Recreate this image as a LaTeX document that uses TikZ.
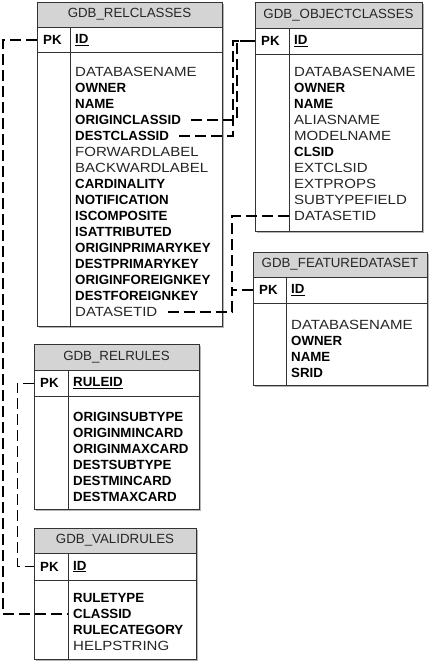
\documentclass[tikz,border=0pt]{standalone}
\usepackage{fontspec}
\setmainfont{Liberation Sans}
\newfontfamily\regfont[FakeStretch=1.13]{Liberation Sans}
\usetikzlibrary{positioning}

\definecolor{hdrgray}{HTML}{D4D4D4}
\definecolor{txtgray}{HTML}{262626}
\definecolor{shadegray}{HTML}{B4B4B4}
\newcommand{\bfld}[1]{\textcolor{black}{\rmfamily\bfseries #1}}

\tikzset{
  frame/.style={draw=black!80, fill=white, line width=0.9pt},
  hdr/.style={draw=black!80, fill=hdrgray, line width=0.9pt},
  rule/.style={draw=black!80, line width=0.9pt},
  shade/.style={fill=shadegray},
  title/.style={text=txtgray, font=\fontsize{13.3}{16}\selectfont},
  pk/.style={anchor=west, inner xsep=6pt, inner ysep=0pt, font=\bfseries\fontsize{13.3}{16}\selectfont},
  fld/.style={anchor=west, inner xsep=5pt, inner ysep=0pt, text=txtgray, font=\regfont\fontsize{13.3}{16}\selectfont},
  fk/.style={draw=black, line width=1.4pt, dash pattern=on 11pt off 5pt},
}

\begin{document}
\begin{tikzpicture}[x=1pt,y=-1pt]
    \useasboundingbox (0,0) rectangle (429,662);

    % GDB_RELCLASSES
    \fill[shade] (39,4) rectangle (224,328);
    \draw[frame] (37,2) rectangle (222,326);
    \draw[hdr] (37,2) rectangle (222,27);
    \draw[rule] (37,52) -- (222,52) (70,27) -- (70,326);
    \node[title] (RC) at (129.5,14.5) {GDB\_RELCLASSES};
    \node[pk] (RCpk) at (37,40) {PK};
    \node[fld] (RCid) at (70,40) {\bfld{\underline{ID}}};
    \foreach \f [count=\i] in {DATABASENAME, \bfld{OWNER}, \bfld{NAME}, \bfld{ORIGINCLASSID},
        \bfld{DESTCLASSID}, FORWARDLABEL, BACKWARDLABEL, \bfld{CARDINALITY}, \bfld{NOTIFICATION},
        \bfld{ISCOMPOSITE}, \bfld{ISATTRIBUTED}, \bfld{ORIGINPRIMARYKEY}, \bfld{DESTPRIMARYKEY},
        \bfld{ORIGINFOREIGNKEY}, \bfld{DESTFOREIGNKEY}, DATASETID}
        \node[fld] (RC\i) at (70,56+16*\i) {\f};

    % GDB_OBJECTCLASSES
    \fill[shade] (257,4) rectangle (424,233);
    \draw[frame] (255,2) rectangle (422,231);
    \draw[hdr] (255,2) rectangle (422,28);
    \draw[rule] (255,54) -- (422,54) (289,28) -- (289,231);
    \node[title] (OC) at (338.5,15) {GDB\_OBJECTCLASSES};
    \node[pk] (OCpk) at (255,41) {PK};
    \node[fld] (OCid) at (289,41) {\bfld{\underline{ID}}};
    \foreach \f [count=\i] in {DATABASENAME, \bfld{OWNER}, \bfld{NAME}, ALIASNAME, MODELNAME,
        \bfld{CLSID}, EXTCLSID, EXTPROPS, SUBTYPEFIELD, DATASETID}
        \node[fld] (OC\i) at (289,56+16*\i) {\f};

    % GDB_FEATUREDATASET
    \fill[shade] (255,254) rectangle (429,387);
    \draw[frame] (253,252) rectangle (427,385);
    \draw[hdr] (253,252) rectangle (427,277);
    \draw[rule] (253,303) -- (427,303) (286,277) -- (286,385);
    \node[title] (FD) at (340,264.5) {GDB\_FEATUREDATASET};
    \node[pk] (FDpk) at (253,290) {PK};
    \node[fld] (FDid) at (286,290) {\bfld{\underline{ID}}};
    \foreach \f [count=\i] in {DATABASENAME, \bfld{OWNER}, \bfld{NAME}, \bfld{SRID}}
        \node[fld] (FD\i) at (286,309+16*\i) {\f};

    % GDB_RELRULES
    \fill[shade] (36,346) rectangle (201,511);
    \draw[frame] (34,344) rectangle (199,509);
    \draw[hdr] (34,344) rectangle (199,370);
    \draw[rule] (34,396) -- (199,396) (68,370) -- (68,509);
    \node[title] (RR) at (116.5,357) {GDB\_RELRULES};
    \node[pk] (RRpk) at (34,383) {PK};
    \node[fld] (RRid) at (68,383) {\bfld{\underline{RULEID}}};
    \foreach \f [count=\i] in {ORIGINSUBTYPE, ORIGINMINCARD, ORIGINMAXCARD, DESTSUBTYPE,
        DESTMINCARD, DESTMAXCARD}
        \node[fld] (RR\i) at (68,401+16*\i) {\bfld{\f}};

    % GDB_VALIDRULES
    \fill[shade] (36,530) rectangle (198,661);
    \draw[frame] (34,528) rectangle (196,659);
    \draw[hdr] (34,528) rectangle (196,553);
    \draw[rule] (34,580) -- (196,580) (68,553) -- (68,659);
    \node[title] (VR) at (115,540.5) {GDB\_VALIDRULES};
    \node[pk] (VRpk) at (34,566.5) {PK};
    \node[fld] (VRid) at (68,566.5) {\bfld{\underline{ID}}};
    \foreach \f [count=\i] in {\bfld{RULETYPE}, \bfld{CLASSID}, \bfld{RULECATEGORY}, HELPSTRING}
        \node[fld] (VR\i) at (68,582+16*\i) {\f};

    % relationships
    \coordinate (railL) at (3,0);
    \coordinate (railR) at (17,0);
    \coordinate (bendO) at (237,0);
    \coordinate (bendD) at (233,0);
    \coordinate (bendF) at (232,0);
    \draw[fk, line width=2pt] (RCpk.west) -| (railL |- VR2.west) -- (VR2.west);
    \draw[fk] ([xshift=5pt]RC4.east) -| (bendO |- OCpk.west) -- (OCpk.west);
    \draw[fk] ([xshift=5pt]RC5.east) -| (bendD |- OCpk.west) -- (OCpk.west);
    \draw[fk] ([xshift=5pt]RC16.east) -| (bendF |- FDpk.west) -- (FDpk.west);
    \draw[fk] (OC10.west) -| (bendF |- FDpk.west);
    \draw[fk, line width=1pt] (RRpk.west) -| (railR |- VRpk.west) -- (VRpk.west);
\end{tikzpicture}
\end{document}
